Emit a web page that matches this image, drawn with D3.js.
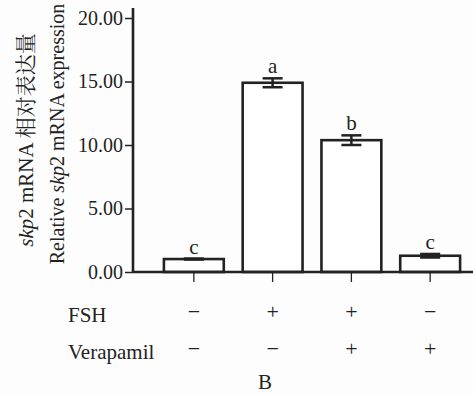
<!DOCTYPE html>
<html>
<head>
<meta charset="utf-8">
<script src="https://cdn.jsdelivr.net/npm/d3@7"></script>
<style>
  body { margin: 0; background: #fdfdfd; }
</style>
</head>
<body>
<script>
// data
let groups = ["g1", "g2", "g3", "g4"]
let means = [1.02, 14.9, 10.38, 1.28]
let errors = [0.04, 0.35, 0.38, 0.14]
let letters = ["c", "a", "b", "c"]
let fsh = ["\u2212", "+", "+", "\u2212"]
let verapamil = ["\u2212", "\u2212", "+", "+"]
let yTicks = [0, 5, 10, 15, 20]

let w = 473, h = 396
let ink = "#222"
let serif = "'Liberation Serif', 'Times New Roman', Times, serif"

let svg = d3.select("body").append("svg")
    .attr("width", w)
    .attr("height", h)
    .style("font-family", serif)

let x = d3.scaleBand()
    .domain(groups)
    .range([145, 479])
    .paddingInner(0.24)
    .paddingOuter(0.24)

let y = d3.scaleLinear()
    .domain([0, 20])
    .range([272, 18])

// y axis
let yAxis = d3.axisLeft(y)
    .tickValues(yTicks)
    .tickSize(8)
    .tickPadding(2)
    .tickFormat(d3.format(".2f"))

let gy = svg.append("g")
    .attr("transform", "translate(133,0)")
    .call(yAxis)
    .attr("font-family", serif)
gy.select(".domain").remove()
gy.selectAll(".tick line").attr("stroke", ink).attr("stroke-width", 1.5)
gy.selectAll(".tick text")
    .style("font-family", serif)
    .style("font-size", "20px")
    .attr("fill", ink)

svg.append("line")
    .attr("x1", 133).attr("x2", 133)
    .attr("y1", 8).attr("y2", y(0) + 1)
    .attr("stroke", ink).attr("stroke-width", 2.6)

// bars
svg.selectAll("rect.bar")
    .data(groups)
    .enter()
    .append("rect")
    .attr("class", "bar")
    .attr("x", d => x(d))
    .attr("y", (d, i) => y(means[i]))
    .attr("width", x.bandwidth())
    .attr("height", (d, i) => y(0) - y(means[i]))
    .attr("fill", "#fff")
    .attr("stroke", ink)
    .attr("stroke-width", 2.6)

// error bars
let capW = 10
groups.forEach((g, i) => {
    let cx = x(g) + x.bandwidth() / 2
    let top = y(means[i] + errors[i])
    let bot = y(means[i] - errors[i])
    let eb = svg.append("g").attr("stroke", ink).attr("stroke-width", 2.5)
    eb.append("line").attr("x1", cx).attr("x2", cx).attr("y1", top).attr("y2", bot)
    eb.append("line").attr("x1", cx - capW).attr("x2", cx + capW).attr("y1", top).attr("y2", top)
    eb.append("line").attr("x1", cx - capW).attr("x2", cx + capW).attr("y1", bot).attr("y2", bot)
    svg.append("text")
        .attr("x", cx)
        .attr("y", top - 5)
        .attr("text-anchor", "middle")
        .attr("fill", ink)
        .style("font-size", "21px")
        .text(letters[i])
})

// x axis
svg.append("line")
    .attr("x1", 133).attr("x2", 473)
    .attr("y1", y(0)).attr("y2", y(0))
    .attr("stroke", ink).attr("stroke-width", 2.6)

let xAxis = d3.axisBottom(x).tickSize(10).tickFormat("")
let gx = svg.append("g")
    .attr("transform", "translate(0," + y(0) + ")")
    .call(xAxis)
gx.select(".domain").remove()
gx.selectAll(".tick line").attr("stroke", ink).attr("stroke-width", 1.3)

// treatment rows
let rows = [["FSH", fsh, 322], ["Verapamil", verapamil, 359]]
rows.forEach(r => {
    svg.append("text")
        .attr("x", 68)
        .attr("y", r[2])
        .attr("fill", ink)
        .style("font-size", "21px")
        .text(r[0])
    svg.selectAll(null)
        .data(groups)
        .enter()
        .append("text")
        .attr("x", d => x(d) + x.bandwidth() / 2)
        .attr("y", r[2] - 3)
        .attr("text-anchor", "middle")
        .attr("fill", ink)
        .style("font-size", "22px")
        .text((d, i) => r[1][i])
})

svg.append("text")
    .attr("x", 265)
    .attr("y", 389)
    .attr("text-anchor", "middle")
    .attr("fill", ink)
    .style("font-size", "21px")
    .text("B")

// y axis titles
let t1 = svg.append("text")
    .attr("transform", "translate(33,140) rotate(-90)")
    .attr("text-anchor", "middle")
    .attr("fill", ink)
    .style("font-size", "21px")
t1.append("tspan").style("font-style", "italic").text("skp")
t1.append("tspan").text("2 mRNA ")
t1.append("tspan").style("font-family", "'Noto Serif CJK SC', 'Noto Sans CJK SC', serif").text("相对表达量")

let t2 = svg.append("text")
    .attr("transform", "translate(64,134) rotate(-90)")
    .attr("text-anchor", "middle")
    .attr("fill", ink)
    .style("font-size", "20px")
t2.append("tspan").text("Relative ")
t2.append("tspan").style("font-style", "italic").text("skp")
t2.append("tspan").text("2 mRNA expression")
</script>
</body>
</html>
